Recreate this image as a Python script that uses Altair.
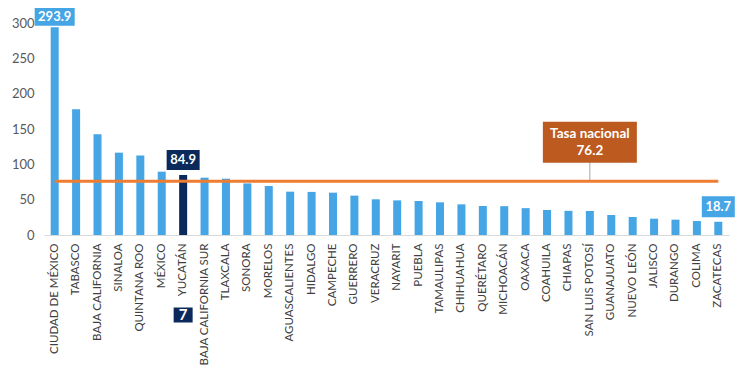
import altair as alt
import pandas as pd

states = [
    "CIUDAD DE MÉXICO", "TABASCO", "BAJA CALIFORNIA", "SINALOA", "QUINTANA ROO",
    "MÉXICO", "YUCATÁN", "BAJA CALIFORNIA SUR", "TLAXCALA", "SONORA", "MORELOS",
    "AGUASCALIENTES", "HIDALGO", "CAMPECHE", "GUERRERO", "VERACRUZ", "NAYARIT",
    "PUEBLA", "TAMAULIPAS", "CHIHUAHUA", "QUERÉTARO", "MICHOACÁN", "OAXACA",
    "COAHUILA", "CHIAPAS", "SAN LUIS POTOSÍ", "GUANAJUATO", "NUEVO LEÓN",
    "JALISCO", "DURANGO", "COLIMA", "ZACATECAS",
]
rates = [
    293.9, 178.0, 142.5, 116.5, 112.5, 89.6, 84.9, 81.1, 79.7, 73.0, 69.3,
    61.3, 61.0, 59.9, 55.7, 50.5, 49.0, 48.1, 46.2, 43.4, 41.0, 40.8, 38.0,
    35.4, 34.2, 34.0, 28.3, 25.5, 23.1, 21.7, 19.8, 18.7,
]
national_rate = 76.2
highlight_state = "YUCATÁN"
highlight_rank = "7"

label_states = ["CIUDAD DE MÉXICO", "YUCATÁN", "ZACATECAS"]
label_values = [293.9, 84.9, 18.7]
label_texts = ["293.9", "84.9", "18.7"]
label_fills = ["#45A5E5", "#0B2A5B", "#45A5E5"]
label_widths = [40, 33, 33]
label_heights = [18, 20, 21]

BLUE = "#45A5E5"
NAVY = "#0B2A5B"
ORANGE = "#EE7D31"
BROWN = "#BC5A1F"
FONT = "Lato"


def box_path(w, h):
    r = h / w
    return f"M-1,{-r:.4f}L1,{-r:.4f}L1,{r:.4f}L-1,{r:.4f}Z"


df = pd.DataFrame({"state": states, "rate": rates})
df["nacional"] = national_rate
df["color"] = [NAVY if s == highlight_state else BLUE for s in states]

lab = pd.DataFrame({
    "state": label_states,
    "rate": label_values,
    "text": label_texts,
    "fill": label_fills,
    "shape": [box_path(w, h) for w, h in zip(label_widths, label_heights)],
    "size": [w * w for w in label_widths],
})
lab_top = lab.iloc[:1]
lab_rest = lab.iloc[1:]

x_scale = alt.Scale(paddingInner=0, paddingOuter=0)
x_axis = alt.Axis(labelAngle=-90, labelFont=FONT, labelFontSize=11.5,
                  labelColor="#404040", ticks=False, labelPadding=8,
                  domainColor="#D9D9D9", domainWidth=1, labelLimit=200)
y_scale = alt.Scale(domain=[0, 300], nice=False)
y_axis = alt.Axis(values=[0, 50, 100, 150, 200, 250, 300], grid=False,
                  domain=False, ticks=False, labelPadding=10, labelFont=FONT,
                  labelFontSize=13, labelColor="#595959", title=None,
                  labelOverlap=False)


def X():
    return alt.X("state:N", sort=states, title=None, scale=x_scale, axis=x_axis)


def Y(field):
    return alt.Y(field, scale=y_scale, axis=y_axis)


base = alt.Chart(df)

bars = base.mark_bar(size=8).encode(
    x=X(), y=Y("rate:Q"),
    color=alt.Color("color:N", scale=None),
)

line = base.mark_line(color=ORANGE, strokeWidth=3).encode(
    x=X(), y=Y("nacional:Q"),
)


def label_layers(data, off):
    b = alt.Chart(data)
    bx = b.mark_point(filled=True, opacity=1, yOffset=off, strokeWidth=0).encode(
        x=X(), y=Y("rate:Q"),
        shape=alt.Shape("shape:N", scale=None),
        size=alt.Size("size:Q", scale=None),
        color=alt.Color("fill:N", scale=None),
    )
    tx = b.mark_text(yOffset=off, color="white", font=FONT, fontWeight="bold",
                     fontSize=13, baseline="middle").encode(
        x=X(), y=Y("rate:Q"), text="text:N",
    )
    return [bx, tx]


nat = pd.DataFrame({"state": ["SAN LUIS POTOSÍ"], "rate": [national_rate],
                    "text": [f"Tasa nacional\n{national_rate}"],
                    "shape": [box_path(94, 41)], "size": [94 * 94]})
nat_base = alt.Chart(nat)
leader = nat_base.mark_rule(color="#A6A6A6", strokeWidth=1, yOffset=-20, y2Offset=-1).encode(
    x=X(), y=Y("rate:Q"), y2="rate:Q",
)
nat_box = nat_base.mark_point(filled=True, opacity=1, yOffset=-39, strokeWidth=0,
                              color=BROWN).encode(
    x=X(), y=Y("rate:Q"),
    shape=alt.Shape("shape:N", scale=None),
    size=alt.Size("size:Q", scale=None),
)
nat_text = nat_base.mark_text(yOffset=-47.5, color="white", font=FONT, fontWeight="bold",
                              fontSize=13.5, lineBreak="\n", lineHeight=17,
                              baseline="middle").encode(
    x=X(), y=Y("rate:Q"), text="text:N",
)

rank = pd.DataFrame({"state": [highlight_state], "rate": [0], "text": [highlight_rank],
                     "shape": [box_path(19, 15)], "size": [19 * 19]})
rank_base = alt.Chart(rank)
rank_box = rank_base.mark_point(filled=True, opacity=1, yOffset=80, strokeWidth=0,
                                color=NAVY).encode(
    x=X(), y=Y("rate:Q"),
    shape=alt.Shape("shape:N", scale=None),
    size=alt.Size("size:Q", scale=None),
)
rank_text = rank_base.mark_text(yOffset=80, color="white", font=FONT, fontWeight="bold",
                                fontSize=15, baseline="middle").encode(
    x=X(), y=Y("rate:Q"), text="text:N",
)

chart = alt.layer(
    bars, line, leader, nat_box, nat_text,
    *label_layers(lab_top, -10.5), *label_layers(lab_rest, -15),
    rank_box, rank_text,
).properties(
    width=685, height=212,
    autosize=alt.AutoSizeParams(type="none"),
    padding={"left": 36, "top": 15, "right": 12, "bottom": 132},
).configure_view(stroke=None)

chart.save("out.html", embed_options={"renderer": "svg", "actions": False})
